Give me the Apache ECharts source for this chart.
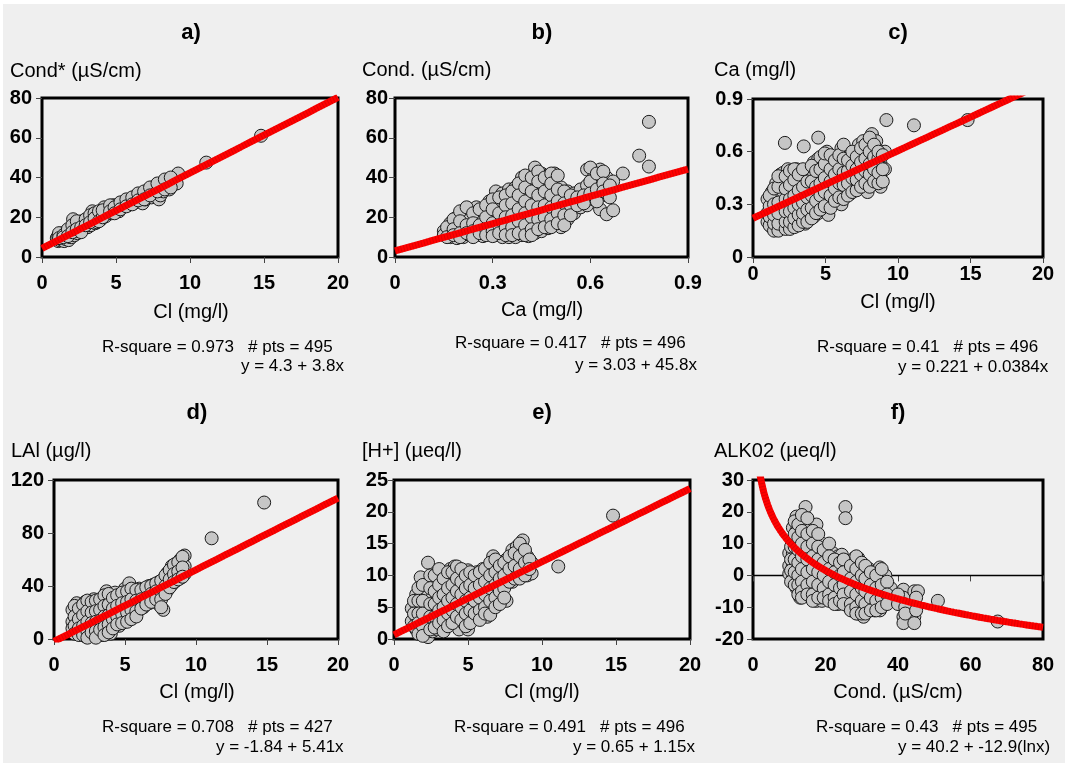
<!DOCTYPE html>
<html><head><meta charset="utf-8">
<script src="https://cdn.jsdelivr.net/npm/echarts/dist/echarts.min.js"></script>
<style>html,body{margin:0;padding:0;background:#fff}#c{width:1065px;height:763px}</style>
</head><body><div id="c"></div><script>
// ---- data ----
// each entry: [x, [y values at that x]]
const colsA = [[1.0,[9.5]],[1.1,[10.5,8]],[1.2,[8.5,11]],[1.3,[11,9]],[1.4,[9,12]],[1.5,[10.5,8]],[1.6,[12,9]],[1.7,[9.5,13]],[1.8,[11.5,8.5]],[1.9,[13,10]],[2.0,[10,14]],[2.1,[19,12]],[2.2,[14,11]],[2.3,[12.5,16]],[2.4,[15.5,12]],[2.5,[13,17]],[2.6,[16,14]],[2.7,[18,14]],[2.8,[14.5,17]],[2.9,[17,15]],[3.0,[15,18]],[3.1,[17.5,15]],[3.2,[16,19]],[3.3,[19,16]],[3.4,[23,18]],[3.5,[18,21]],[3.6,[20,17]],[3.7,[17.5,21]],[3.8,[21,19]],[3.9,[19,22]],[4.0,[22,19]],[4.2,[25,21]],[4.3,[20.5,23]],[4.5,[22,24]],[4.7,[24,22]],[4.8,[26,23]],[5.0,[23.5,26]],[5.2,[25,23]],[5.4,[27,25]],[5.6,[26,28]],[5.8,[28,26]],[6.0,[27,29]],[6.2,[29,27]],[6.4,[28,31]],[6.6,[31,28]],[6.8,[30,27]],[7.0,[32,29]],[7.2,[30,33]],[7.4,[33,30]],[7.5,[35,31]],[7.7,[31,34]],[7.9,[29,36]],[8.0,[34,31]],[8.2,[36,33]],[8.4,[38,35]],[8.6,[37,34]],[8.8,[39,36]],[9.0,[40,38]],[9.1,[37]],[9.2,[42]],[11.1,[47.5]],[14.8,[61]]];
const colsA2 = [[1.15,[12,9.5]],[1.45,[11,10]],[1.75,[14,10.5]],[2.05,[16,12.5]],[2.35,[18,14]],[2.65,[15,12.5]],[2.95,[19,16]],[3.25,[21,17.5]],[3.55,[22,19.5]],[3.85,[23,18]],[4.1,[20,23.5]],[4.6,[26,23]],[4.9,[25,22]],[5.3,[27.5,24]],[5.7,[29,25.5]],[6.1,[30,26.5]],[6.5,[32,28.5]],[6.9,[33,29]],[7.3,[35,31]],[7.8,[33,37]],[8.3,[39,34]],[8.7,[40,35]]];
const colsB = [[0.15,[13,11]],[0.17,[17,12,10]],[0.19,[20,15,11,9.5]],[0.21,[21,17,13,10]],[0.23,[24,19,14,11]],[0.25,[25,20,15,11,19.5]],[0.27,[23,18,13,10.5]],[0.29,[28,22,16,12]],[0.31,[27,20,14,11,33]],[0.33,[32,25,18,13,10]],[0.35,[34,29,23,17,12,10]],[0.37,[35,30,25,19,13,10]],[0.39,[40,33,27,21,15,11]],[0.41,[38,31,24,18,13,10.5]],[0.43,[45,36,29,22,16,12]],[0.45,[42,35,28,22,17,13]],[0.47,[41,36,30,24,18,14.5]],[0.49,[42,33,27,21,16]],[0.51,[35,30,25,19,15]],[0.53,[33,28,23,19]],[0.55,[32,27,22]],[0.57,[34,29,25]],[0.59,[44,36,30,26]],[0.61,[40,33,29]],[0.63,[44,36,31,24]],[0.65,[40,35,31,21.5]],[0.67,[38,23.5]],[0.70,[42]],[0.75,[51]],[0.78,[68,45.5]]];
const colsB2 = [[0.16,[15,10]],[0.18,[19,14,11]],[0.20,[23,18,12,10]],[0.22,[25,16,12]],[0.24,[22,17,13,10]],[0.26,[24,16,12]],[0.28,[26,20,14,11]],[0.30,[29,24,17,13,10.5]],[0.32,[30,22,16,12]],[0.34,[31,26,20,15,11]],[0.36,[33,27,21,15,11]],[0.38,[37,31,24,18,12]],[0.40,[41,35,28,22,16,11]],[0.42,[40,33,26,20,14,11]],[0.44,[43,38,31,25,19,14]],[0.46,[40,33,26,20,15]],[0.48,[42,37,31,25,19,15]],[0.50,[41,34,28,22,17]],[0.52,[33,27,21,16]],[0.54,[31,26,21]],[0.56,[30,26]],[0.58,[31,27]],[0.60,[45,38,32]],[0.62,[42,34,28]],[0.64,[43,37,33]],[0.66,[36,30]]];
const colsC = [[1.0,[0.2,0.25,0.33]],[1.3,[0.17,0.22,0.3,0.37]],[1.6,[0.16,0.2,0.26,0.34,0.42]],[1.9,[0.16,0.21,0.28,0.36,0.47]],[2.1,[0.37,0.18,0.24,0.31,0.42,0.48]],[2.2,[0.65]],[2.4,[0.17,0.22,0.29,0.36,0.44,0.5]],[2.7,[0.18,0.24,0.3,0.4,0.48]],[3.0,[0.19,0.26,0.33,0.42,0.5]],[3.3,[0.2,0.27,0.36,0.45]],[3.5,[0.63]],[3.6,[0.19,0.26,0.32,0.4,0.48]],[3.9,[0.22,0.29,0.37,0.45]],[4.2,[0.23,0.3,0.38,0.47,0.54]],[4.5,[0.25,0.33,0.41,0.5,0.56,0.68]],[4.8,[0.27,0.36,0.44,0.52]],[5.1,[0.31,0.38,0.47,0.55,0.6]],[5.2,[0.24]],[5.5,[0.3,0.38,0.46,0.54]],[5.8,[0.33,0.41,0.5,0.57]],[6.1,[0.3,0.38,0.45,0.54,0.62]],[6.4,[0.36,0.44,0.5,0.57]],[6.7,[0.36,0.43,0.5,0.58]],[7.0,[0.39,0.46,0.53]],[7.3,[0.41,0.48,0.55,0.64]],[7.6,[0.4,0.46,0.52,0.66]],[7.9,[0.37,0.43,0.5,0.6]],[8.2,[0.42,0.48,0.55,0.7]],[8.5,[0.45,0.5,0.62,0.66]],[8.8,[0.4,0.45,0.53]],[9.1,[0.5,0.6]],[9.2,[0.78]],[11.1,[0.75]],[14.8,[0.78]]];
const colsC2 = [[1.15,[0.18,0.23,0.29,0.35]],[1.45,[0.15,0.19,0.24,0.3,0.39]],[1.75,[0.15,0.19,0.25,0.31,0.4,0.46]],[2.25,[0.16,0.2,0.26,0.33,0.39,0.46]],[2.55,[0.16,0.2,0.26,0.33,0.41,0.49]],[2.85,[0.17,0.22,0.28,0.35,0.44,0.5]],[3.15,[0.18,0.24,0.3,0.38,0.47]],[3.45,[0.2,0.25,0.31,0.4,0.5]],[3.75,[0.2,0.27,0.34,0.43]],[4.05,[0.22,0.28,0.35,0.43,0.52]],[4.35,[0.25,0.32,0.4,0.49]],[4.65,[0.27,0.35,0.42,0.5,0.57]],[4.95,[0.29,0.37,0.45,0.53,0.59]],[5.35,[0.28,0.35,0.43,0.5,0.58]],[5.65,[0.32,0.39,0.47,0.55]],[5.95,[0.34,0.42,0.5,0.58]],[6.25,[0.33,0.41,0.48,0.56,0.64]],[6.55,[0.35,0.42,0.49,0.55]],[6.85,[0.37,0.45,0.52,0.6]],[7.15,[0.38,0.44,0.5,0.57]],[7.45,[0.4,0.47,0.54,0.62]],[7.75,[0.42,0.49,0.56,0.64]],[8.05,[0.4,0.47,0.53,0.6,0.68]],[8.35,[0.43,0.5,0.57,0.64]],[8.65,[0.42,0.48,0.56,0.6]],[8.95,[0.43,0.5,0.58]]];
const colsD = [[1.3,[22,13,8]],[1.6,[27,19,12,6]],[1.9,[24,16,9,4]],[2.2,[28,20,12,5,2]],[2.5,[26,18,10,3]],[2.8,[30,22,14,7,2]],[3.1,[27,19,11,4]],[3.4,[31,23,15,8,3]],[3.7,[36,27,18,10]],[4.0,[33,25,17,9,4]],[4.3,[35,27,19,12]],[4.6,[32,24,16,10]],[5.0,[38,30,22,14]],[5.3,[42,33,25,17]],[5.6,[35,28,20]],[6.0,[38,30,22]],[6.3,[36,29,24]],[6.7,[40,33,27]],[7.0,[41,35,29]],[7.4,[43,37,30,26]],[7.7,[45,38,22]],[8.0,[50,43,37]],[8.3,[55,48,41]],[8.6,[57,50,44]],[8.9,[60,52,46]],[9.2,[63,55,49]],[11.1,[76]],[14.8,[103]]];
const colsD2 = [[1.45,[25,17,10,4]],[1.75,[23,15,8,3]],[2.05,[26,18,10,3]],[2.35,[29,21,13,6,1]],[2.65,[28,20,12,5]],[2.95,[29,21,13,6,1]],[3.25,[30,22,14,7]],[3.55,[33,25,17,9,3]],[3.85,[34,26,18,11,5]],[4.15,[31,23,15,8]],[4.45,[33,25,17,11]],[4.8,[35,27,19,12]],[5.15,[36,28,20,13]],[5.45,[38,30,22,15]],[5.8,[37,29,21,17]],[6.15,[37,30,23]],[6.5,[39,31,26]],[6.85,[40,34,28]],[7.2,[42,36,30]],[7.55,[44,36,30,24]],[7.85,[48,40,34]],[8.15,[52,45,39]],[8.45,[56,49,43]],[8.75,[58,51,45]],[9.05,[62,54,47]]];
const colsE = [[1.2,[4.8,2.8]],[1.5,[7,5.5,3.5,1.5]],[1.8,[9.7,6.5,4.8,3,1.2]],[2.1,[8,6,4,2.5,0.7]],[2.3,[12,7.5,5,2,0.3]],[2.6,[9,6.5,4.5,2.8,1.2]],[2.9,[9.5,7,5,3.5,1.5]],[3.2,[10.5,8,6,4,2.2]],[3.5,[10,7.5,5.5,3.5]],[3.8,[11,8.5,6.5,4.5,3]],[4.1,[11.4,9,7,5,3]],[4.4,[10,8,6,4,1.5]],[4.7,[10.5,8.5,6.5,4.5,2.5]],[5.0,[10.8,9,7,5,1.5]],[5.3,[9.5,7.5,5.5,3.5]],[5.6,[10.5,8.5,6.5,4.5]],[6.0,[11,9,7,5,3.5]],[6.3,[10,8,6,3.5]],[6.7,[13,11,9,7,5]],[7.0,[12,10,8,6]],[7.3,[11,9.5,7]],[7.6,[12.5,10,6]],[8.0,[14,12,10,9]],[8.3,[14.5,12.5,10.5]],[8.7,[15.5,13,11]],[9.0,[13,11,10]],[9.3,[12,10.3]],[11.1,[11.4]],[14.8,[19.4]]];
const colsE2 = [[1.35,[6,4,2]],[1.65,[8,6,4,2.5,0.8]],[1.95,[8.5,6,4,2,0.5]],[2.45,[10,8,5.5,3.5,1.5]],[2.75,[10,7.5,5.5,3.5,1.8]],[3.05,[11,8.5,6.5,4.5,2.5]],[3.35,[9.5,7,5,3,1.2]],[3.65,[10.5,8,6,4,2]],[3.95,[10.5,8.5,6.5,4.5,2.5]],[4.25,[11.4,9.5,7.5,5.5,3.5]],[4.55,[11,9,7,5,3]],[4.85,[10,8,6,4,2]],[5.15,[10.5,8.5,6.5,4.5,2.5]],[5.45,[10,8,6,4]],[5.8,[10.5,8.5,6.5,4.5,3]],[6.15,[11,9,7,5,4]],[6.5,[12,10,8,6,3.8]],[6.85,[12.5,10.5,8.5,6.5,5]],[7.15,[11.5,9.5,7.5,5.5]],[7.45,[12,10,8,6.5]],[7.8,[13,11,9]],[8.15,[13.5,11.5,9.5]],[8.5,[15,13,11,9.5]],[8.85,[14,12,10]],[9.15,[12.5,11]]];
const colsF = [[10,[7,3,0.5]],[11,[15,11,7,3,-1]],[12,[18.5,14,10,6,2,-2,-4]],[13,[17,12,8,4,0,-4,-7]],[14.5,[21.5,15,10,6,2,-2,-5]],[16,[16,12,8,4,0,-4,-7]],[17.5,[16,11,7,3,-1,-5,-8]],[19,[10,6,2,-2,-6,-8]],[20.5,[9,5,1,-3,-7]],[22,[7,3,-1,-5,-8]],[23.5,[6,2,-2,-6,-9]],[24.5,[6.5,0,-4,-7]],[25.5,[21.5,18]],[26.5,[4,0,-4,-8,-10]],[28,[5.5,1,-3,-7,-11]],[29,[5.5,2,-6,-12]],[30.5,[3,-1,-5,-9,-13]],[32,[2,-2,-6,-10]],[33.5,[1,-3,-8,-11]],[35,[2.5,-2,-6,-11]],[36.5,[0,-4,-9]],[38,[-4,-8]],[41.5,[-4.5,-7,-9,-13,-15]],[44.5,[-5,-9,-13,-15]],[45.5,[-5]],[51,[-8]],[67.5,[-14.5]]];
const colsF2 = [[10.5,[9,5,1.5,-2]],[11.5,[17,13,9,5,1,-3]],[12.5,[16,12,8,4,0,-3,-6]],[13.5,[19,14,10,6,2,-2,-5,-7]],[15,[18,13,9,5,1,-3,-6]],[16.5,[14,10,6,2,-2,-6,-8]],[18,[13,9,5,1,-3,-7]],[19.5,[8,4,0,-4,-7]],[21,[10,6,2,-2,-6,-8]],[22.5,[5,1,-3,-7,-9]],[24,[4,0,-4,-8]],[25,[5,1,-3,-6,-9]],[27,[3,-1,-5,-9,-11]],[28.5,[6,2,-2,-6,-10,-12]],[30,[4,0,-4,-8,-12]],[31,[3,-1,-5,-9,-12]],[32.5,[1,-3,-7,-11]],[34,[0,-4,-8,-11]],[35.5,[2,-3,-7,-10]],[37,[-2,-6,-9]],[40,[-6,-9]],[42,[-10,-12]],[45,[-11,-7]]];
// fit coefficients (intercept, slope) as printed on the chart
const fitA = [4.3, 3.8], fitB = [3.03, 45.8], fitC = [0.221, 0.0384], fitD = [-1.84, 5.41], fitE = [0.65, 1.15], fitF = [40.2, -12.9];
const titles = ['a)','b)','c)','d)','e)','f)'];
const yNames = ['Cond* (µS/cm)','Cond. (µS/cm)','Ca (mg/l)','LAl (µg/l)','[H+] (µeq/l)','ALK02 (µeq/l)'];
const xNames = ['Cl (mg/l)','Ca (mg/l)','Cl (mg/l)','Cl (mg/l)','Cl (mg/l)','Cond. (µS/cm)'];
const stats1 = ['R-square = 0.973   # pts = 495','R-square = 0.417   # pts = 496','R-square = 0.41   # pts = 496','R-square = 0.708   # pts = 427','R-square = 0.491   # pts = 496','R-square = 0.43   # pts = 495'];
const stats2 = ['y = 4.3 + 3.8x','y = 3.03 + 45.8x','y = 0.221 + 0.0384x','y = -1.84 + 5.41x','y = 0.65 + 1.15x','y = 40.2 + -12.9(lnx)'];
const xRanges = [[0,20,5],[0,0.9,0.3],[0,20,5],[0,20,5],[0,20,5],[0,80,20]];
const yRanges = [[0,80,20],[0,80,20],[0,0.9,0.3],[0,120,40],[0,25,5],[-20,30,10]];

// ---- layout ----
const grids = [
  {left:42, top:98, width:296, height:159},
  {left:395, top:98, width:293, height:159},
  {left:753, top:99, width:290, height:158},
  {left:54, top:480, width:284, height:159},
  {left:394, top:480, width:296, height:159},
  {left:753, top:480, width:290, height:159}
];
const lay = [
  {t:[191,33], yn:[10,71], xn:[191,312], s1:[102,347], s2:[241,366], xm:16, ym:10},
  {t:[542,33], yn:[362,70], xn:[542,310], s1:[455,343], s2:[575,365], xm:16, ym:7},
  {t:[898,33], yn:[714,70], xn:[898,302], s1:[817,347], s2:[898,367], xm:7, ym:10},
  {t:[197,413], yn:[11,451], xn:[197,692], s1:[102,727], s2:[216,747], xm:16, ym:10},
  {t:[542,413], yn:[362,451], xn:[542,692], s1:[454,727], s2:[573,747], xm:16, ym:6},
  {t:[898,413], yn:[714,451], xn:[898,692], s1:[816,727], s2:[898,747], xm:16, ym:9}
];

function flat(cols){ const out=[]; cols.forEach(c=>c[1].forEach(y=>out.push([c[0],y]))); return out; }
const allCols = [colsA.concat(colsA2),colsB.concat(colsB2),colsC.concat(colsC2),colsD.concat(colsD2),colsE.concat(colsE2),colsF.concat(colsF2)];
const fits = [fitA,fitB,fitC,fitD,fitE,fitF];

function fitLine(i){
  const f = fits[i], r = xRanges[i], pts=[];
  if(i===5){
    for(let x=1; x<=80.001; x+=0.5) pts.push([x, f[0]+f[1]*Math.log(x)]);
  } else {
    const n=40;
    for(let k=0;k<=n;k++){ const x=r[0]+(r[1]-r[0])*k/n; pts.push([x, f[0]+f[1]*x]); }
  }
  return pts;
}

const FONT = '"Liberation Sans", Arial, sans-serif';
const option = {
  animation:false,
  backgroundColor:'#ffffff',
  grid: grids.map(g=>Object.assign({show:true, borderColor:'#000', borderWidth:3, backgroundColor:'transparent'}, g)),
  xAxis: grids.map((g,i)=>({
    gridIndex:i, type:'value', min:xRanges[i][0], max:xRanges[i][1], interval:xRanges[i][2],
    axisLine:{show:false}, splitLine:{show:false},
    axisTick:{show:true, length:6, lineStyle:{color:'#444', width:1}},
    axisLabel:{margin:lay[i].xm, color:'#000', fontFamily:FONT, fontWeight:'bold', fontSize:20}
  })),
  yAxis: grids.map((g,i)=>({
    gridIndex:i, type:'value', min:yRanges[i][0], max:yRanges[i][1], interval:yRanges[i][2],
    axisLine:{show:false}, splitLine:{show:false},
    axisTick:{show:true, length:6, lineStyle:{color:'#444', width:1}},
    axisLabel:{margin:lay[i].ym, color:'#000', fontFamily:FONT, fontWeight:'bold', fontSize:20}
  })),
  series: [],
  graphic: []
};

grids.forEach((g,i)=>{
  option.series.push({
    type:'scatter', xAxisIndex:i, yAxisIndex:i, data:flat(allCols[i]), symbolSize:13, z:3,
    itemStyle:{color:'#c6c6c6', borderColor:'#1a1a1a', borderWidth:1, opacity:1}
  });
  const fl = fitLine(i);
  option.series.push({
    type:'line', xAxisIndex:i, yAxisIndex:i, data:fl, showSymbol:false, clip:true, z:4,
    lineStyle:{color:'#ff0000', width:7, cap:'butt'}
  });
  option.series.push({
    type:'line', xAxisIndex:i, yAxisIndex:i, data:fl, showSymbol:false, clip:true, z:5,
    lineStyle:{color:'rgba(170,0,0,0.35)', width:7, type:[1,2], cap:'butt'}
  });
  if(i===5){
    option.series.push({
      type:'line', xAxisIndex:i, yAxisIndex:i, data:[[0,0],[80,0]], showSymbol:false, z:2,
      lineStyle:{color:'#000', width:1.5}
    });
  }
});

option.graphic.push({type:'rect', z:-10, silent:true, shape:{x:3,y:4,width:1062,height:759}, style:{fill:'#efefef'}});
lay.forEach((L,i)=>{
  option.graphic.push({type:'text', x:L.t[0], y:L.t[1], style:{text:titles[i], font:'bold 22px '+FONT, fill:'#000', textAlign:'center', textVerticalAlign:'middle'}});
  option.graphic.push({type:'text', x:L.yn[0], y:L.yn[1], style:{text:yNames[i], font:'20px '+FONT, fill:'#000', textAlign:'left', textVerticalAlign:'middle'}});
  option.graphic.push({type:'text', x:L.xn[0], y:L.xn[1], style:{text:xNames[i], font:'20px '+FONT, fill:'#000', textAlign:'center', textVerticalAlign:'middle'}});
  option.graphic.push({type:'text', x:L.s1[0], y:L.s1[1], style:{text:stats1[i], font:'17px '+FONT, fill:'#000', textAlign:'left', textVerticalAlign:'middle'}});
  option.graphic.push({type:'text', x:L.s2[0], y:L.s2[1], style:{text:stats2[i], font:'17px '+FONT, fill:'#000', textAlign:'left', textVerticalAlign:'middle'}});
});

const chart = echarts.init(document.getElementById('c'));
chart.setOption(option);
</script></body></html>
